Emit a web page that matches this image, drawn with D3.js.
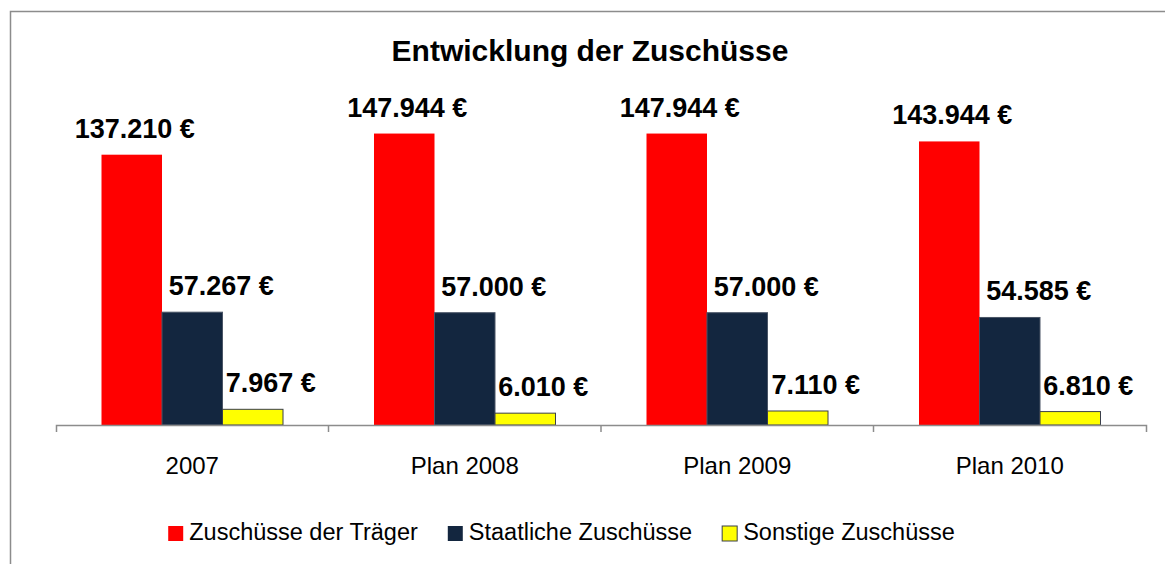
<!DOCTYPE html>
<html>
<head>
<meta charset="utf-8">
<script src="https://cdn.jsdelivr.net/npm/d3@7"></script>
<style>
  html, body { margin: 0; padding: 0; background: #fff; }
  svg { display: block; font-family: "Liberation Sans", Arial, sans-serif; }
</style>
</head>
<body>
<svg id="chart"></svg>
<script>
const categories = ['2007', 'Plan 2008', 'Plan 2009', 'Plan 2010'];
const seriesNames = ['Zuschüsse der Träger', 'Staatliche Zuschüsse', 'Sonstige Zuschüsse'];
const traeger = [137210, 147944, 147944, 143944];
const staatlich = [57267, 57000, 57000, 54585];
const sonstige = [7967, 6010, 7110, 6810];
const title = 'Entwicklung der Zuschüsse';

const colors = ['#ff0000', '#13263f', '#ffff00'];
const strokes = ['none', '#4a5566', '#3a3f4a'];
const labelDx = [3, 29, 18]; // labels sit a little right of their bars, like in the original

const width = 1165, height = 564;
const marginLeft = 56, marginRight = 19, baseline = 425;

const values = [traeger, staatlich, sonstige];
const data = categories.map((c, i) => ({
    category: c,
    bars: seriesNames.map((s, j) => ({series: s, idx: j, value: values[j][i]}))
}));

const fmt = v => d3.format(',')(v).replace(/,/g, '.') + ' €';

const svg = d3.select('#chart')
    .attr('width', width)
    .attr('height', height)
    .attr('viewBox', [0, 0, width, height]);

// outer frame (runs off the right and bottom edge)
svg.append('rect')
    .attr('x', 10.5).attr('y', 11.5)
    .attr('width', width + 20).attr('height', height + 20)
    .attr('fill', 'none')
    .attr('stroke', '#8c8c8c')
    .attr('stroke-width', 1.5);

svg.append('text')
    .attr('x', 590).attr('y', 61)
    .attr('text-anchor', 'middle')
    .attr('font-size', 30)
    .attr('font-weight', 'bold')
    .attr('fill', '#000')
    .text(title);

const x0 = d3.scaleBand()
    .domain(categories)
    .range([marginLeft, width - marginRight]);

const x1 = d3.scaleBand()
    .domain(seriesNames)
    .range([45.5, x0.bandwidth() - 45.5]);

const y = d3.scaleLinear()
    .domain([0, 160000])
    .range([baseline, baseline - 160000 * 0.00197]);

const groups = svg.append('g')
    .selectAll('g')
    .data(data)
    .join('g')
        .attr('transform', d => `translate(${x0(d.category)},0)`);

groups.selectAll('rect')
    .data(d => d.bars)
    .join('rect')
        .attr('x', d => x1(d.series))
        .attr('y', d => y(d.value))
        .attr('width', x1.bandwidth())
        .attr('height', d => y(0) - y(d.value))
        .attr('fill', d => colors[d.idx])
        .attr('stroke', d => strokes[d.idx])
        .attr('stroke-width', 1);

groups.selectAll('text')
    .data(d => d.bars)
    .join('text')
        .attr('x', d => x1(d.series) + x1.bandwidth() / 2 + labelDx[d.idx])
        .attr('y', d => y(d.value) - 17)
        .attr('text-anchor', 'middle')
        .attr('font-size', 27)
        .attr('font-weight', 'bold')
        .attr('fill', '#000')
        .text(d => fmt(d.value));

// category axis: ticks between categories like Excel
const xAxis = d3.axisBottom(x0).tickSize(0).tickPadding(0).tickSizeOuter(7);
svg.append('g')
    .attr('transform', `translate(0,${baseline})`)
    .call(xAxis)
    .call(g => g.select('.domain').attr('stroke', '#8c8c8c').attr('stroke-width', 1.5))
    .call(g => g.selectAll('.tick text')
        .attr('y', 49)
        .attr('dy', null)
        .attr('font-size', 24)
        .attr('font-family', '"Liberation Sans", Arial, sans-serif')
        .attr('fill', '#000'))
    .call(g => g.selectAll('.boundary')
        .data(categories.slice(1))
        .join('line')
            .attr('class', 'boundary')
            .attr('x1', d => x0(d)).attr('x2', d => x0(d))
            .attr('y1', 0).attr('y2', 7)
            .attr('stroke', '#8c8c8c')
            .attr('stroke-width', 1.5));

// legend
const legend = svg.append('g').attr('font-size', 23.5);
let lx = 0;
seriesNames.forEach((s, j) => {
    const item = legend.append('g').attr('transform', `translate(${lx},0)`);
    item.append('rect')
        .attr('x', 0).attr('y', 526)
        .attr('width', 15).attr('height', 15)
        .attr('fill', colors[j])
        .attr('stroke', j === 2 ? '#3a3f4a' : 'none');
    const t = item.append('text')
        .attr('x', 21).attr('y', 540)
        .attr('fill', '#000')
        .text(s);
    lx += 21 + t.node().getComputedTextLength() + 30;
});
const legendWidth = lx - 30;
legend.attr('transform', `translate(${561.5 - legendWidth / 2},0)`);
</script>
</body>
</html>
